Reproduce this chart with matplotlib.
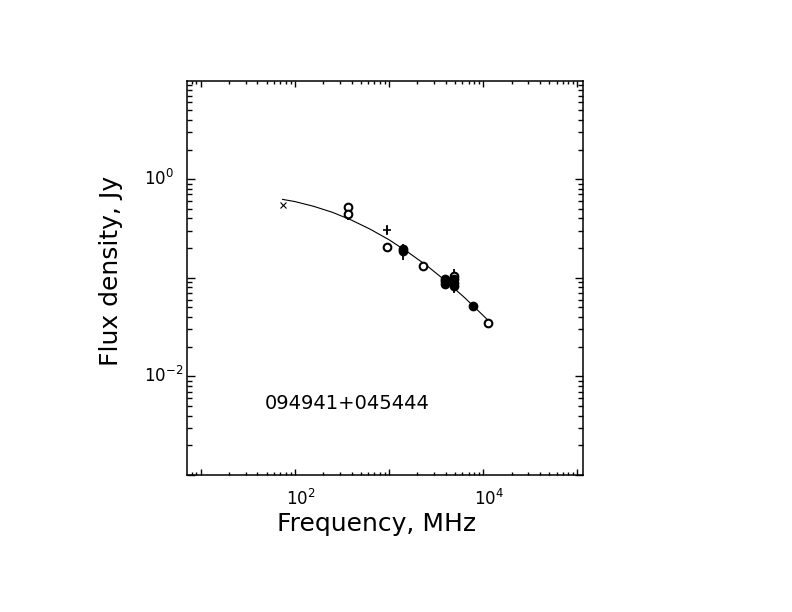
import matplotlib
matplotlib.use('Agg')
import matplotlib.pyplot as plt
import matplotlib.transforms as mtransforms
from matplotlib.ticker import LogLocator, NullFormatter

plt.rcParams['font.family'] = ['DejaVu Sans']
plt.rcParams['mathtext.fontset'] = 'dejavusans'

# spectrum of 094941+045444
curve_freq = [74, 100, 158, 251, 398, 631, 1000, 1585, 2512, 3981, 6310, 10000, 11220]
curve_flux = [0.624, 0.593, 0.531, 0.461, 0.385, 0.311, 0.243, 0.182, 0.133, 0.0933, 0.0632, 0.0414, 0.0371]

cross_freq = [74]
cross_flux = [0.545]

plus_freq = [960]
plus_flux = [0.306]
plus_err = [0.035]

circ_freq = [365, 365, 960, 2300, 4850, 11200]
circ_flux = [0.52, 0.441, 0.206, 0.131, 0.104, 0.0348]
circ_err = [0.0, 0.055, 0.012, 0.012, 0.0, 0.003]

dot_freq = [1400, 1400, 3900, 3900, 3900, 4850, 4850, 4850, 7700]
dot_flux = [0.196, 0.187, 0.098, 0.092, 0.087, 0.097, 0.089, 0.082, 0.0517]
dot_err = [0.0, 0.035, 0.004, 0.0, 0.004, 0.027, 0.0, 0.0, 0.0]

source = '094941+045444'
xtick_vals = [1e2, 1e4]
xtick_text = [r'$10^{2}$', r'$10^{4}$']
ytick_vals = [1e0, 1e-2]
ytick_text = [r'$10^{0}$', r'$10^{-2}$']

fig = plt.figure(figsize=(7.92, 6.12), dpi=100)
ax = fig.add_axes([0.2355, 0.2239, 0.5012, 0.6437])
ax.set_xscale('log')
ax.set_yscale('log')
ax.set_xlim(7.07, 1.16e5)
ax.set_ylim(1e-3, 9.9)

ax.plot(curve_freq, curve_flux, color='black', lw=0.8)
ax.plot(cross_freq, cross_flux, ls='none', marker='x', ms=5, mew=0.8, color='black')
ax.errorbar(plus_freq, plus_flux, yerr=plus_err, fmt='+', ms=6, mew=1.2,
            color='black', elinewidth=1.2, capsize=0)
ax.errorbar(circ_freq, circ_flux, yerr=circ_err, fmt='o', ms=5.5, mew=1.5,
            mfc='white', mec='black', color='black', elinewidth=1.3, capsize=0)
ax.errorbar(dot_freq, dot_flux, yerr=dot_err, fmt='o', ms=5.5, mew=1.5,
            mfc='black', mec='black', color='black', elinewidth=1.3, capsize=0)

ax.text(0.198, 0.1675, source, transform=ax.transAxes, fontsize=14,
        ha='left', va='baseline')

for s in ax.spines.values():
    s.set_linewidth(1.1)

ax.xaxis.set_major_locator(LogLocator(base=10, numticks=20))
ax.yaxis.set_major_locator(LogLocator(base=10, numticks=20))
ax.xaxis.set_minor_locator(LogLocator(base=10, subs=range(2, 10), numticks=20))
ax.yaxis.set_minor_locator(LogLocator(base=10, subs=range(2, 10), numticks=20))
ax.xaxis.set_major_formatter(NullFormatter())
ax.yaxis.set_major_formatter(NullFormatter())
ax.xaxis.set_minor_formatter(NullFormatter())
ax.yaxis.set_minor_formatter(NullFormatter())
ax.tick_params(which='both', direction='in', top=True, right=True, width=1.0)
ax.tick_params(axis='x', which='major', length=4)
ax.tick_params(axis='x', which='minor', length=2.5)
ax.tick_params(axis='y', which='major', length=5.5)
ax.tick_params(axis='y', which='minor', length=3.5)

# labelled decades, the "10" part sits on the tick as in the original
shift = mtransforms.ScaledTranslation(6 / 100, 0, fig.dpi_scale_trans)
for v, t in zip(xtick_vals, xtick_text):
    ax.text(v, -0.075, t, transform=ax.get_xaxis_transform() + shift,
            fontsize=12, ha='center', va='baseline')
for v, t in zip(ytick_vals, ytick_text):
    ax.text(-0.108, v, t, transform=ax.get_yaxis_transform(), fontsize=12,
            ha='left', va='center')

ax.set_xlabel('Frequency, MHz', fontsize=18, va='baseline')
ax.xaxis.set_label_coords(0.479, -0.141)
ax.set_ylabel('Flux density, Jy', fontsize=18, va='baseline')
ax.yaxis.set_label_coords(-0.172, 0.519)

fig.savefig('out.png', dpi=100)
